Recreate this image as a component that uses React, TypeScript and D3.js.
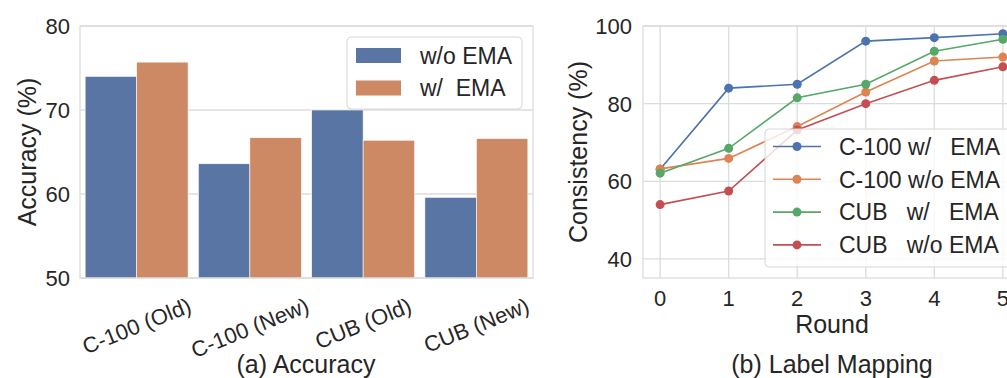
import React, { useEffect, useRef } from "react";
import * as d3 from "d3";

// (a) Accuracy
const categories = ["C-100 (Old)", "C-100 (New)", "CUB (Old)", "CUB (New)"];
const hues = ["w/o EMA", "w/  EMA"];
const woEma = [74.0, 63.6, 70.0, 59.6];
const wEma = [75.7, 66.7, 66.4, 66.6];
const accTicks = [50, 60, 70, 80];

// (b) Label Mapping
const rounds = [0, 1, 2, 3, 4, 5];
const seriesNames = ["C-100 w/   EMA", "C-100 w/o EMA", "CUB   w/   EMA", "CUB   w/o EMA"];
const c100W = [63.1, 84.0, 85.0, 96.1, 97.0, 98.0];
const c100Wo = [63.2, 65.9, 74.1, 83.0, 91.0, 92.0];
const cubW = [62.1, 68.5, 81.5, 85.0, 93.5, 96.6];
const cubWo = [54.0, 57.5, 73.2, 80.0, 86.0, 89.5];
const consTicks = [40, 60, 80, 100];

const barColors = ["#5975a4", "#cc8963"];
const lineColors = ["#4c72b0", "#dd8452", "#55a868", "#c44e52"];
const textColor = "#262626";
const gridColor = "#dcdcdc";
const font = "'Liberation Sans', Arial, sans-serif";

const W = 1007;
const H = 378;

export default function App() {
  const svgRef = useRef<SVGSVGElement>(null);

  useEffect(() => {
    document.body.style.margin = "0";
    const svg = d3.select(svgRef.current);
    svg.selectAll("*").remove();
    svg.attr("font-family", font).attr("fill", textColor);

    // ---------- left: bar chart ----------
    const lx = d3.scaleBand().domain(categories).range([80, 533]);
    const lh = d3.scaleBand().domain(hues).range([0, lx.bandwidth()]).paddingOuter(0.1);
    const ly = d3.scaleLinear().domain([50, 80]).range([278, 26]);

    const left = svg.append("g");
    left
      .selectAll("line.grid")
      .data(accTicks)
      .join("line")
      .attr("x1", 80)
      .attr("x2", 533)
      .attr("y1", (d) => ly(d))
      .attr("y2", (d) => ly(d))
      .attr("stroke", gridColor)
      .attr("stroke-width", 1.3);

    const barData = categories.flatMap((c, i) => [
      { c, h: hues[0], v: woEma[i], k: 0 },
      { c, h: hues[1], v: wEma[i], k: 1 },
    ]);
    left
      .selectAll("rect.bar")
      .data(barData)
      .join("rect")
      .attr("x", (d) => lx(d.c)! + lh(d.h)!)
      .attr("width", lh.bandwidth())
      .attr("y", (d) => ly(d.v))
      .attr("height", (d) => ly(50) - ly(d.v))
      .attr("fill", (d) => barColors[d.k])
      .attr("stroke", "#ffffff")
      .attr("stroke-width", 0.6);

    left
      .append("rect")
      .attr("x", 80)
      .attr("y", 26)
      .attr("width", 453)
      .attr("height", 252)
      .attr("fill", "none")
      .attr("stroke", gridColor)
      .attr("stroke-width", 1.3);

    left
      .selectAll("text.ytick")
      .data(accTicks)
      .join("text")
      .attr("x", 70)
      .attr("y", (d) => ly(d))
      .attr("dy", "0.36em")
      .attr("text-anchor", "end")
      .attr("font-size", 22)
      .text((d) => d);

    // rotated x tick labels: rotated box centred on the tick, its top at the pad
    const rot = 22;
    const rad = (rot * Math.PI) / 180;
    left
      .selectAll("text.xtick")
      .data(categories)
      .join("text")
      .attr("font-size", 22)
      .attr("text-anchor", "middle")
      .attr("dy", "0.35em")
      .text((d) => d)
      .each(function (d) {
        const el = this as SVGTextElement;
        const w = el.getComputedTextLength();
        const h = 20;
        const bh = w * Math.sin(rad) + h * Math.cos(rad);
        const cx = lx(d)! + lx.bandwidth() / 2;
        const cy = 295 + bh / 2;
        d3.select(el).attr("transform", `translate(${cx},${cy}) rotate(${-rot})`);
      });

    left
      .append("text")
      .attr("transform", "translate(27,152) rotate(-90)")
      .attr("text-anchor", "middle")
      .attr("dy", "0.35em")
      .attr("font-size", 25)
      .text("Accuracy (%)");

    left
      .append("text")
      .attr("x", 306)
      .attr("y", 373)
      .attr("text-anchor", "middle")
      .attr("font-size", 25)
      .text("(a) Accuracy");

    // legend
    const lg = left.append("g");
    lg.append("rect")
      .attr("x", 347)
      .attr("y", 37)
      .attr("width", 175)
      .attr("height", 72)
      .attr("rx", 4)
      .attr("fill", "#ffffff")
      .attr("fill-opacity", 0.8)
      .attr("stroke", "#d6d6d6");
    hues.forEach((h, i) => {
      lg.append("rect")
        .attr("x", 356)
        .attr("y", 48 + i * 32.5)
        .attr("width", 45)
        .attr("height", 15)
        .attr("fill", barColors[i]);
      lg.append("text")
        .attr("x", 420)
        .attr("y", 64 + i * 32)
        .attr("font-size", 23)
        .style("white-space", "pre")
        .text(h);
    });

    // ---------- right: line chart ----------
    const rx = d3.scaleLinear().domain([-0.25, 5.25]).range([643, 1020]);
    const ry = d3.scaleLinear().domain([35.1, 100]).range([278, 26]);
    const right = svg.append("g");

    right
      .selectAll("line.hgrid")
      .data(consTicks)
      .join("line")
      .attr("x1", 643)
      .attr("x2", 1020)
      .attr("y1", (d) => ry(d))
      .attr("y2", (d) => ry(d))
      .attr("stroke", gridColor)
      .attr("stroke-width", 1.3);
    right
      .selectAll("line.vgrid")
      .data(rounds)
      .join("line")
      .attr("x1", (d) => rx(d))
      .attr("x2", (d) => rx(d))
      .attr("y1", 26)
      .attr("y2", 278)
      .attr("stroke", gridColor)
      .attr("stroke-width", 1.3);
    right
      .append("rect")
      .attr("x", 643)
      .attr("y", 26)
      .attr("width", 377)
      .attr("height", 252)
      .attr("fill", "none")
      .attr("stroke", gridColor)
      .attr("stroke-width", 1.3);

    const series = [c100W, c100Wo, cubW, cubWo];
    const line = d3
      .line<number>()
      .x((_, i) => rx(rounds[i]))
      .y((d) => ry(d));
    series.forEach((s, k) => {
      right
        .append("path")
        .attr("d", line(s))
        .attr("fill", "none")
        .attr("stroke", lineColors[k])
        .attr("stroke-width", 1.6);
      right
        .selectAll(`circle.s${k}`)
        .data(s)
        .join("circle")
        .attr("cx", (_, i) => rx(rounds[i]))
        .attr("cy", (d) => ry(d))
        .attr("r", 4.5)
        .attr("fill", lineColors[k]);
    });

    right
      .selectAll("text.ytick")
      .data(consTicks)
      .join("text")
      .attr("x", 632)
      .attr("y", (d) => ry(d))
      .attr("dy", "0.36em")
      .attr("text-anchor", "end")
      .attr("font-size", 22)
      .text((d) => d);
    right
      .selectAll("text.xtick")
      .data(rounds)
      .join("text")
      .attr("x", (d) => rx(d))
      .attr("y", 306)
      .attr("text-anchor", "middle")
      .attr("font-size", 22)
      .text((d) => d);

    right
      .append("text")
      .attr("transform", "translate(578,152) rotate(-90)")
      .attr("text-anchor", "middle")
      .attr("dy", "0.35em")
      .attr("font-size", 25)
      .text("Consistency (%)");
    right
      .append("text")
      .attr("x", 832)
      .attr("y", 333)
      .attr("text-anchor", "middle")
      .attr("font-size", 25)
      .text("Round");
    right
      .append("text")
      .attr("x", 832)
      .attr("y", 373)
      .attr("text-anchor", "middle")
      .attr("font-size", 25)
      .text("(b) Label Mapping");

    const rg = right.append("g");
    rg.append("rect")
      .attr("x", 765)
      .attr("y", 129)
      .attr("width", 250)
      .attr("height", 138)
      .attr("rx", 4)
      .attr("fill", "#ffffff")
      .attr("fill-opacity", 0.8)
      .attr("stroke", "#d6d6d6");
    seriesNames.forEach((n, k) => {
      const y = 146.5 + k * 32.8;
      rg.append("line")
        .attr("x1", 773)
        .attr("x2", 821)
        .attr("y1", y)
        .attr("y2", y)
        .attr("stroke", lineColors[k])
        .attr("stroke-width", 1.6);
      rg.append("circle").attr("cx", 797).attr("cy", y).attr("r", 4.5).attr("fill", lineColors[k]);
      rg.append("text")
        .attr("x", 839)
        .attr("y", y)
        .attr("dy", "0.36em")
        .attr("font-size", 23)
        .style("white-space", "pre")
        .text(n);
    });
  }, []);

  return (
    <div>
      <svg ref={svgRef} width={W} height={H} style={{ display: "block" }} />
    </div>
  );
}
